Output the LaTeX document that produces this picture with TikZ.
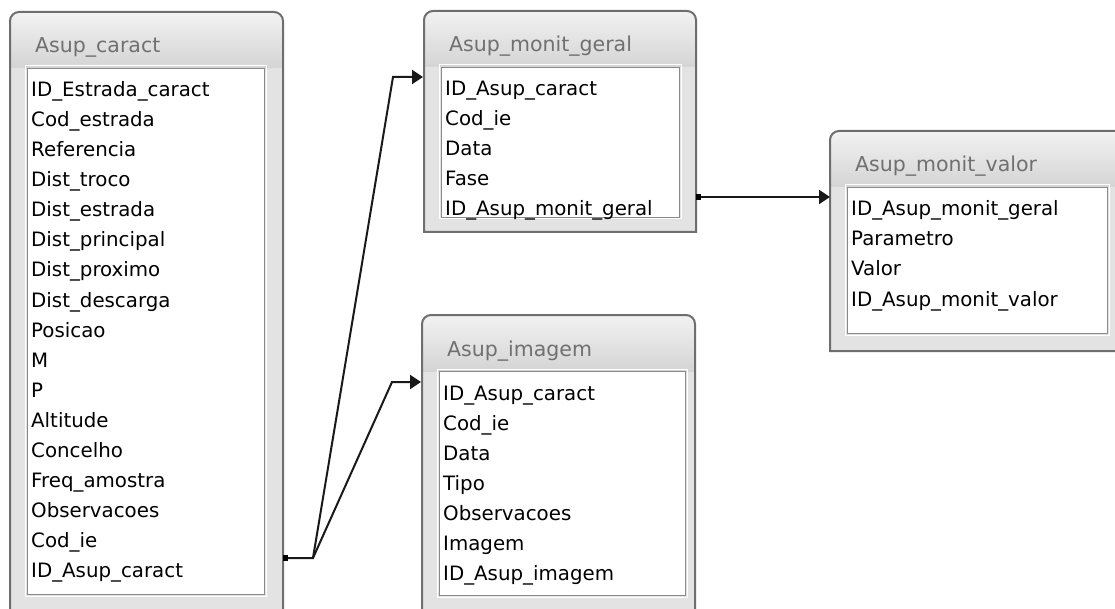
\documentclass[tikz,border=0pt]{standalone}
\usepackage{fontspec}
\setmainfont{DejaVu Sans}
\usetikzlibrary{arrows.meta,calc}
\definecolor{frameedge}{HTML}{6E6E6E}
\definecolor{framefill}{HTML}{E3E3E3}
\definecolor{headtop}{HTML}{F2F2F2}
\definecolor{headbot}{HTML}{D4D4D4}
\definecolor{innerline}{HTML}{8A8A8A}
\definecolor{titlegray}{HTML}{707070}
\tikzset{
  titletext/.style={font=\fontsize{20.5}{24}\selectfont, text=titlegray, inner sep=0pt, anchor=base west},
  fieldtext/.style={font=\fontsize{19.8}{24}\selectfont, text=black, inner sep=0pt, anchor=base west},
  innerbox/.style={draw=innerline, fill=white, line width=1.4pt, inner sep=0pt, anchor=north west},
  conn/.style={draw=black!90, line width=2pt},
  connarrow/.style={conn, -{Triangle[length=11pt,width=14pt]}},
}
% #1 name, #2 L, #3 T, #4 R, #5 B, #6 inner right, #7 inner bottom, #8 title, #9 fields
\newcommand{\dbtable}[9]{%
  \pgfmathsetmacro\tbil{#2+17}%
  \pgfmathsetmacro\tbit{#3+56}%
  \pgfmathsetmacro\tbiw{#6-\tbil}%
  \pgfmathsetmacro\tbih{#7-\tbit}%
  \fill[framefill] (#2,#5) [rounded corners=9pt] -- (#2,#3) -- (#4,#3) [sharp corners] -- (#4,#5) -- cycle;
  \begin{scope}
    \clip (#2,#5) [rounded corners=9pt] -- (#2,#3) -- (#4,#3) [sharp corners] -- (#4,#5) -- cycle;
    \shade[top color=headtop, bottom color=headbot] (#2,#3) rectangle (#4,\tbit);
  \end{scope}
  \draw[frameedge, line width=2pt] (#2,#5) [rounded corners=9pt] -- (#2,#3) -- (#4,#3) [sharp corners] -- (#4,#5) -- cycle;
  \draw[white, line width=1pt] (\tbil-2,\tbit-2) rectangle (#6+2,#7+2);
  \node[innerbox, minimum width=\tbiw pt, minimum height=\tbih pt] (#1) at (\tbil,\tbit) {};
  \node[titletext] (#1-title) at (#2+25,#3+41) {#8};
  \foreach \f [count=\i] in {#9} {
    \node[fieldtext] (#1-f\i) at (\tbil+4,#3+85+30*\i-30) {\f};
  }
}
\begin{document}
\begin{tikzpicture}[x=1pt,y=-1pt]
\useasboundingbox (0,0) rectangle (1115,609);
\fill[white] (0,0) rectangle (1115,609);

\dbtable{caract}{10}{12}{283}{640}{264}{594}{Asup\_caract}{ID\_Estrada\_caract,Cod\_estrada,Referencia,Dist\_troco,Dist\_estrada,Dist\_principal,Dist\_proximo,Dist\_descarga,Posicao,M,P,Altitude,Concelho,Freq\_amostra,Observacoes,Cod\_ie,ID\_Asup\_caract}

\dbtable{geral}{424}{11}{696}{232}{679}{217}{Asup\_monit\_geral}{ID\_Asup\_caract,Cod\_ie,Data,Fase,ID\_Asup\_monit\_geral}

\dbtable{valor}{830}{131}{1130}{351}{1107}{333}{Asup\_monit\_valor}{ID\_Asup\_monit\_geral,Parametro,Valor,ID\_Asup\_monit\_valor}

\dbtable{imagem}{422}{315}{695}{640}{685}{595}{Asup\_imagem}{ID\_Asup\_caract,Cod\_ie,Data,Tipo,Observacoes,Imagem,ID\_Asup\_imagem}

% connector end points
\coordinate (caract-out) at (284,558);
\coordinate (fork) at (313,558);
\coordinate (bend-geral) at (393,77);
\coordinate (geral-in) at (423,77);
\coordinate (bend-imagem) at (392,382);
\coordinate (imagem-in) at (421,382);
\coordinate (geral-out) at (697,197);
\coordinate (valor-in) at (830,197);

\draw[connarrow] (caract-out) -- (fork) -- (bend-geral) -- (geral-in);
\draw[connarrow] (fork) -- (bend-imagem) -- (imagem-in);
\draw[connarrow] (geral-out) -- (valor-in);
\fill[black] ($(caract-out)+(-1,-3)$) rectangle ($(caract-out)+(4,3)$);
\fill[black] ($(geral-out)+(-1,-3)$) rectangle ($(geral-out)+(4,3)$);
\end{tikzpicture}
\end{document}
